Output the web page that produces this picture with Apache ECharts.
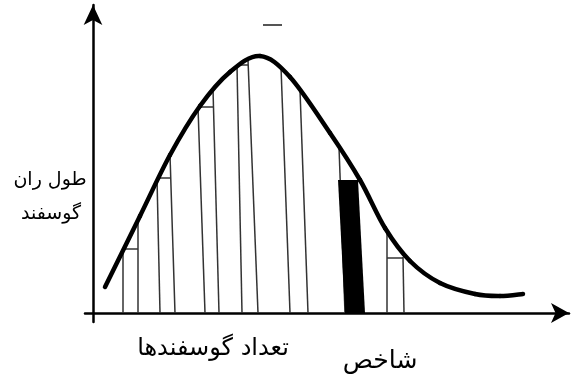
<!DOCTYPE html>
<html>
<head>
<meta charset="utf-8">
<script src="https://cdn.jsdelivr.net/npm/echarts@6/dist/echarts.min.js"></script>
<style>
  html, body { margin: 0; padding: 0; background: #fff; }
  #chart { width: 576px; height: 378px; }
</style>
</head>
<body>
<div id="chart"></div>
<script>
// units: offset from the axis origin (x right, y up)
const curveX = [12, 47, 77, 107, 137, 167, 197, 237, 267, 292, 317, 347, 382, 407, 430]
const curveY = [26, 97, 158, 207, 241, 257, 236, 180, 133, 85, 52, 30, 19, 17, 19]

// vertical strip lines: foot on the x axis, top on the curve or on a step
const stripBottomX = [30, 45, 67, 82, 112, 126, 149, 165, 197, 215, 252, 294, 311]
const stripTopX = [30, 45, 64, 77, 105, 120, 144, 155, 188, 207, 246, 294, 310]
const stripTopY = [64, 93, 135, 158, 206, 224, 247, 253, 246, 223, 166, 82, 56]

// small horizontal steps
const stepY = [64, 135, 206, 248, 55]
const stepX0 = [30, 64, 105, 144, 294]
const stepX1 = [45, 77, 120, 155, 310]

// the black strip (shakhes)
const barX = [245, 265, 272, 252]
const barY = [133, 133, 0, 0]

// stray dash above the peak
const dashX = [170, 189]
const dashY = [288, 288]

const chart = echarts.init(document.getElementById('chart'))

const segs = []
stripBottomX.forEach((x, i) => {
  segs.push({ coords: [[x, 0], [stripTopX[i], stripTopY[i]]] })
})
stepY.forEach((y, i) => {
  segs.push({ coords: [[stepX0[i], y], [stepX1[i], y]] })
})

// catmull-rom through the curve points, drawn as bezier pieces
const renderCurve = (params, api) => {
  const p = curveX.map((x, i) => api.coord([x, curveY[i]]))
  const children = []
  for (let i = 0; i < p.length - 1; i++) {
    const p0 = p[i - 1] || p[i]
    const p1 = p[i]
    const p2 = p[i + 1]
    const p3 = p[i + 2] || p[i + 1]
    children.push({
      type: 'bezierCurve',
      shape: {
        x1: p1[0], y1: p1[1],
        cpx1: p1[0] + (p2[0] - p0[0]) / 6, cpy1: p1[1] + (p2[1] - p0[1]) / 6,
        cpx2: p2[0] - (p3[0] - p1[0]) / 6, cpy2: p2[1] - (p3[1] - p1[1]) / 6,
        x2: p2[0], y2: p2[1]
      },
      style: { stroke: '#000', lineWidth: 4.5, fill: null, lineCap: 'round' }
    })
  }
  return { type: 'group', children }
}

const font = 'DejaVu Sans'

chart.setOption({
  animation: false,
  grid: { left: 85, right: 7, top: 5, bottom: 56 },
  xAxis: {
    type: 'value',
    min: -8,
    max: 476,
    axisLine: {
      onZero: true,
      symbol: ['none', 'arrow'],
      symbolSize: [15, 18],
      lineStyle: { color: '#000', width: 2.5 }
    },
    axisTick: { show: false },
    axisLabel: { show: false },
    splitLine: { show: false }
  },
  yAxis: {
    type: 'value',
    min: -9,
    max: 308,
    axisLine: {
      onZero: true,
      symbol: ['none', 'arrow'],
      symbolSize: [14, 20],
      lineStyle: { color: '#000', width: 2.5 }
    },
    axisTick: { show: false },
    axisLabel: { show: false },
    splitLine: { show: false }
  },
  series: [
    {
      type: 'lines',
      coordinateSystem: 'cartesian2d',
      lineStyle: { color: '#333', width: 1.5, opacity: 1 },
      data: segs,
      z: 1
    },
    {
      type: 'custom',
      renderItem: (params, api) => {
        const pts = barX.map((x, i) => api.coord([x, barY[i]]))
        return { type: 'polygon', shape: { points: pts }, style: { fill: '#000' } }
      },
      data: [0],
      z: 2
    },
    {
      type: 'line',
      data: dashX.map((x, i) => [x, dashY[i]]),
      symbol: 'none',
      lineStyle: { color: '#555', width: 2 }
    },
    {
      type: 'custom',
      renderItem: renderCurve,
      data: [0],
      z: 3
    }
  ],
  graphic: [
    { type: 'text', style: { text: 'طول ران', x: 50, y: 180, align: 'center', verticalAlign: 'middle', font: '19px ' + font, fill: '#000' } },
    { type: 'text', style: { text: 'گوسفند', x: 51, y: 214, align: 'center', verticalAlign: 'middle', font: '19px ' + font, fill: '#000' } },
    { type: 'text', style: { text: 'تعداد گوسفندها', x: 213, y: 349, align: 'center', verticalAlign: 'middle', font: '24px ' + font, fill: '#000' } },
    { type: 'text', style: { text: 'شاخص', x: 380, y: 361, align: 'center', verticalAlign: 'middle', font: '25px ' + font, fill: '#000' } }
  ]
})
</script>
</body>
</html>
